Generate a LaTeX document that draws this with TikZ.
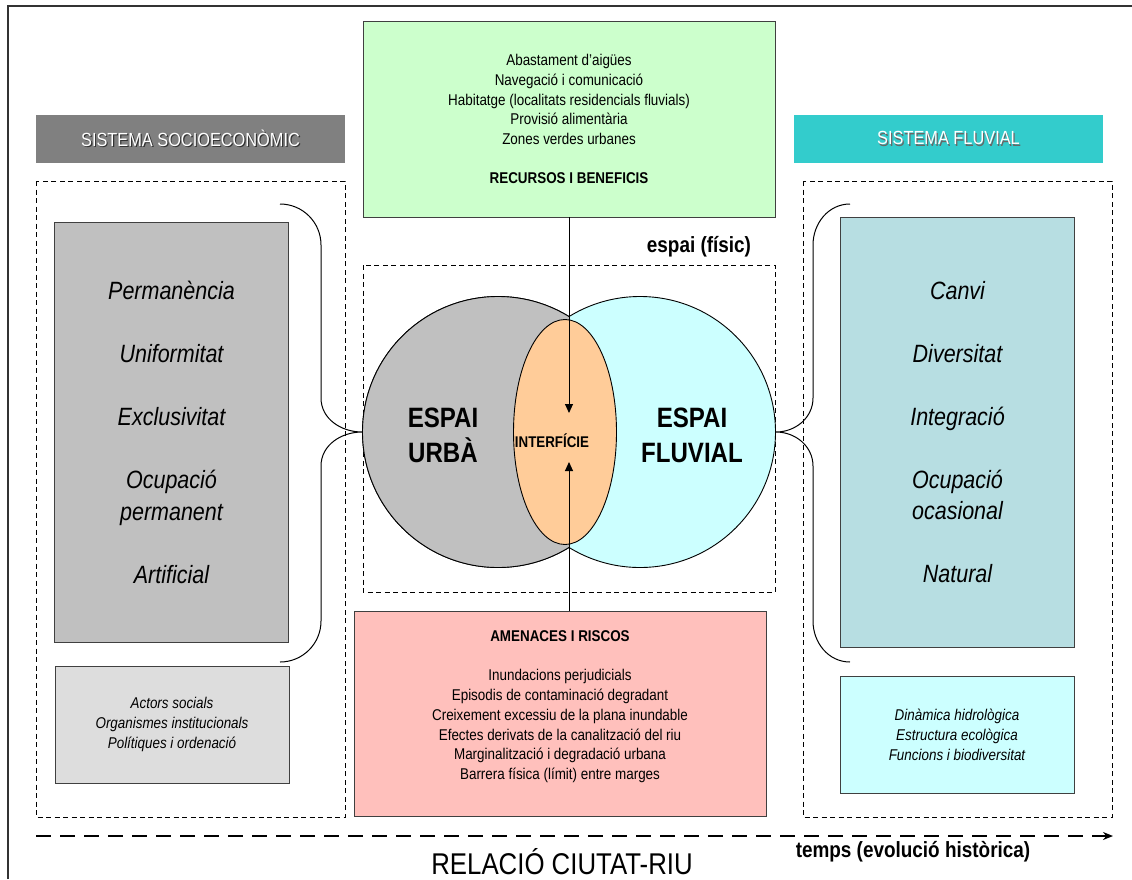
\documentclass[tikz,border=0pt]{standalone}
\usepackage{fontspec}
\setmainfont{Liberation Sans}[FakeStretch=0.86]
\usetikzlibrary{positioning,shapes.geometric,arrows.meta}

\definecolor{headgray}{HTML}{808080}
\definecolor{headcyan}{HTML}{33CCCC}
\definecolor{recgreen}{HTML}{CCFFCC}
\definecolor{riskpink}{HTML}{FFC0BC}
\definecolor{urbgray}{HTML}{C0C0C0}
\definecolor{actgray}{HTML}{DDDDDD}
\definecolor{flublue}{HTML}{B7DEE2}
\definecolor{flucyan}{HTML}{CCFFFF}
\definecolor{interforange}{HTML}{FFCC99}

\newcommand{\shadowed}[2]{\rlap{\kern1.2pt\raisebox{-1.2pt}{\textcolor{#1}{#2}}}#2}

\begin{document}
\begin{tikzpicture}[x=1pt,y=-1pt]
	\tikzset{
		box/.style={draw=black!75, line width=0.8pt, inner sep=0pt, align=center},
		header/.style={inner sep=0pt, minimum width=309pt, minimum height=48pt,
			text=white, font=\fontsize{19}{22}\selectfont},
		trait/.style={box, minimum width=234pt, font=\fontsize{25}{31.5}\selectfont\itshape},
		note/.style={box, minimum width=234pt, minimum height=117pt,
			font=\fontsize{15.6}{20}\selectfont\itshape},
		list/.style={align=center, font=\fontsize{15.6}{19.8}\selectfont},
		frame/.style={dashed, dash pattern=on 5pt off 3.5pt, line width=0.8pt},
		brace/.style={line width=1pt},
		flow/.style={line width=1pt, -{Triangle[length=9pt,width=8pt]}},
		space/.style={circle, draw, line width=0.9pt, minimum size=271pt, inner sep=0pt},
		bigword/.style={align=center, font=\fontsize{28}{35}\selectfont\bfseries}
	}
	\useasboundingbox (0,0) rectangle (1132,879);
	\draw[line width=1.2pt, black!80] (8,879) -- (8,6) -- (1132,6);

	% capcaleres
	\node[header, fill=headgray] (sochead) at (190.5,139) {\shadowed{black!80}{SISTEMA SOCIOECONÒMIC}};
	\node[header, fill=headcyan] (fluhead) at (948.5,139) {\shadowed{black!60}{SISTEMA FLUVIAL}};

	% marcs discontinus
	\draw[frame] (36,181) rectangle (345,817);
	\draw[frame] (803,181) rectangle (1112,817);
	\draw[frame] (363,265) rectangle (775,592);
	\node[font=\fontsize{22}{26}\selectfont\bfseries] (fisic) at (699,247) {espai (físic)};

	% sistema socioeconomic
	\node[trait, fill=urbgray, minimum height=420pt] (soctraits) at (171.5,432.5)
		{Permanència\\[31.5pt]Uniformitat\\[31.5pt]Exclusivitat\\[31.5pt]Ocupació\\permanent\\[31.5pt]Artificial};
	\node[note, fill=actgray] (actors) at (172,724.5)
		{Actors socials\\Organismes institucionals\\Polítiques i ordenació};

	% sistema fluvial
	\node[trait, fill=flublue, minimum height=430pt] (flutraits) at (957.5,432)
		{Canvi\\[31.5pt]Diversitat\\[31.5pt]Integració\\[31.5pt]Ocupació\\ocasional\\[31.5pt]Natural};
	\node[note, fill=flucyan] (dinamica) at (957,734.5)
		{Dinàmica hidrològica\\Estructura ecològica\\Funcions i biodiversitat};

	% recursos i amenaces
	\node[box, fill=recgreen, minimum width=412pt, minimum height=196pt,
		font=\fontsize{15.6}{19.8}\selectfont] (recursos) at (569,119)
		{Abastament d'aigües\\Navegació i comunicació\\Habitatge (localitats residencials fluvials)\\
		Provisió alimentària\\Zones verdes urbanes\\[19pt]\textbf{RECURSOS I BENEFICIS}};
	\node[box, fill=riskpink, minimum width=412pt, minimum height=205pt] (amenaces) at (560,713.5) {};
	\node[list] (amenacestxt) at ([yshift=6.5pt]amenaces.center)
		{\textbf{AMENACES I RISCOS}\\[19pt]Inundacions perjudicials\\Episodis de contaminació degradant\\
		Creixement excessiu de la plana inundable\\Efectes derivats de la canalització del riu\\
		Marginalització i degradació urbana\\Barrera física (límit) entre marges};

	% espais
	\node[space, fill=urbgray] (urba) at (498,432) {};
	\node[space, fill=flucyan] (fluvial) at (640,432) {};
	\begin{scope}
		\clip (360,280) rectangle (569,590);
		\fill[urbgray] (urba.center) circle (135.5);
		\draw[line width=0.9pt] (urba.center) circle (135.5);
	\end{scope}
	\node[ellipse, draw, line width=0.9pt, fill=interforange, inner sep=0pt,
		minimum width=103pt, minimum height=225pt] (interf) at (565,432) {};
	\node[bigword] (urbatxt) at (443,435) {ESPAI\\URBÀ};
	\node[bigword] (fluvialtxt) at (692,435) {ESPAI\\FLUVIAL};
	\node[font=\fontsize{15.5}{18}\selectfont\bfseries] (interftxt) at (552,441) {INTERFÍCIE};

	\coordinate (interftop) at (569,413);
	\coordinate (interfbot) at (569,462);
	\draw[flow] (recursos.south) -- (interftop);
	\draw[flow] (interfbot |- amenaces.north) -- (interfbot);

	% claus
	\coordinate (socbracetop) at (280,204);
	\coordinate (socbracebot) at (280,662);
	\coordinate (flubracetop) at (850,204);
	\coordinate (flubracebot) at (850,662);
	\draw[brace] (socbracetop) to[out=0,in=90] (321,245) -- (321,398) to[out=-90,in=180] (urba.west)
		to[out=180,in=90] (321,466) -- (321,621) to[out=-90,in=0] (socbracebot);
	\draw[brace] (flubracetop) to[out=180,in=90] (813,245) -- (813,398) to[out=-90,in=0] (fluvial.east)
		to[out=0,in=90] (813,466) -- (813,621) to[out=-90,in=180] (flubracebot);

	% temps
	\coordinate (timestart) at (36,836);
	\coordinate (timeend) at (1113,836);
	\draw[line width=2pt, dash pattern=on 15pt off 9pt, -{Stealth[length=10pt,width=8pt]}] (timestart) -- (timeend);
	\node[font=\fontsize{22}{26}\selectfont\bfseries] (temps) at (913,852) {temps (evolució històrica)};
	\node[font=\fontsize{30}{34}\selectfont] (relacio) at (562,862) {RELACIÓ CIUTAT-RIU};
\end{tikzpicture}
\end{document}
